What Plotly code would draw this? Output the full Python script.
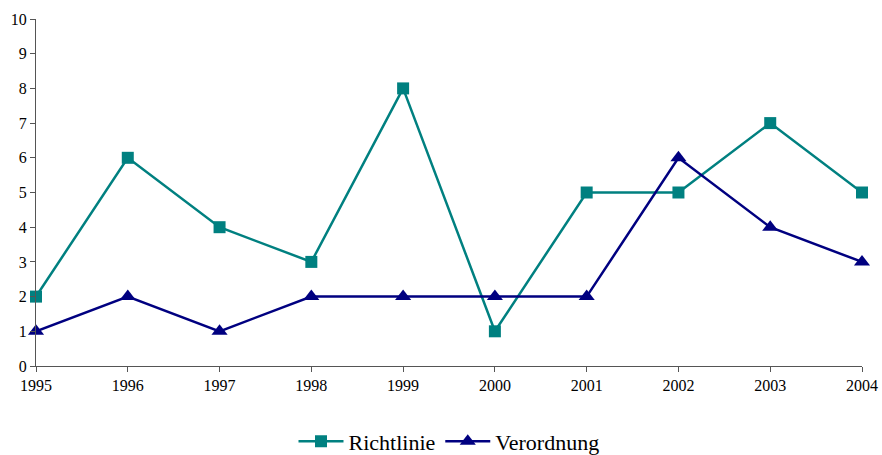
import plotly.graph_objects as go

years = [1995, 1996, 1997, 1998, 1999, 2000, 2001, 2002, 2003, 2004]
richtlinie = [2, 6, 4, 3, 8, 1, 5, 5, 7, 5]
verordnung = [1, 2, 1, 2, 2, 2, 2, 6, 4, 3]

fig = go.Figure()
fig.add_trace(go.Scatter(x=years, y=richtlinie, name="Richtlinie", mode="lines+markers",
                         line=dict(color="#008080", width=2.5),
                         marker=dict(symbol="square", size=12, color="#008080"),
                         cliponaxis=False))
fig.add_trace(go.Scatter(x=years, y=verordnung, name="Verordnung", mode="lines+markers",
                         line=dict(color="#000080", width=2.5),
                         marker=dict(symbol="triangle-up", size=14, color="#000080"),
                         cliponaxis=False))

fig.update_layout(
    width=882, height=455,
    margin=dict(l=36, r=20, t=19, b=89),
    paper_bgcolor="white", plot_bgcolor="white",
    font=dict(family="Liberation Serif, Times New Roman, serif", color="black", size=16),
    showlegend=True,
    legend=dict(orientation="h", x=0.5, xanchor="center",
                yref="container", y=0.03, yanchor="middle",
                font=dict(size=22, color="black"), itemwidth=45),
    xaxis=dict(range=[1995, 2004], tickvals=years, ticktext=[str(y) for y in years],
               automargin=False,
               showline=True, linecolor="#555", linewidth=1, ticks="outside", ticklen=5,
               tickcolor="#555", showgrid=False, zeroline=False,
               tickfont=dict(size=16, color="black")),
    yaxis=dict(range=[0, 10], dtick=1, showline=True, linecolor="#555", linewidth=1,
               automargin=False,
               ticks="outside", ticklen=5, tickcolor="#555", showgrid=False, zeroline=False,
               tickfont=dict(size=16, color="black")),
)
fig.write_html("out.html", config={"displayModeBar": False},
               post_script="document.body.style.margin='0';document.body.style.overflow='hidden';")
